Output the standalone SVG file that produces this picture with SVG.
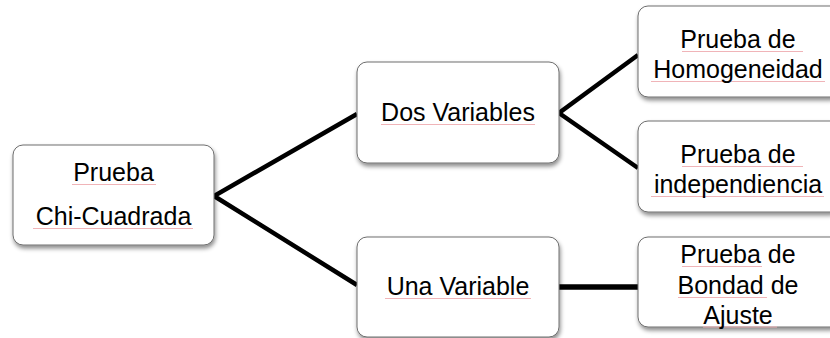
<svg xmlns="http://www.w3.org/2000/svg" width="830" height="338" viewBox="0 0 830 338">
<defs>
<filter id="sh" x="-10%" y="-10%" width="125%" height="130%">
<feDropShadow dx="1" dy="3" stdDeviation="2" flood-color="#000" flood-opacity="0.45"/>
</filter>
</defs>
<style>
.box{fill:#fff;stroke:#6e6e6e;stroke-width:1;filter:url(#sh)}
.t{font-family:"Liberation Sans",Arial,sans-serif;font-size:25px;fill:#000;text-anchor:middle}
.sq{stroke:#f0b4b8;stroke-width:1;fill:none}
.c{stroke:#000;stroke-width:4.5;fill:none;stroke-linejoin:miter}
</style>
<rect width="830" height="338" fill="#fff"/>
<g id="connectors">
<polyline class="c" points="357,114 214,196 357,285"/>
<polyline class="c" points="638,55 559,113 638,168"/>
<line class="c" x1="559" y1="287" x2="638" y2="287" style="stroke-width:5.5"/>
</g>
<g id="n1">
<rect class="box" x="13" y="145" width="201" height="100" rx="10"/>
<line class="sq" x1="72" y1="184.5" x2="156" y2="184.5"/>
<line class="sq" x1="33" y1="228.5" x2="193" y2="228.5"/>
<text class="t" x="113.5" y="181">Prueba</text>
<text class="t" x="113.5" y="225">Chi-Cuadrada</text>
</g>
<g id="n2">
<rect class="box" x="357" y="62" width="202" height="101" rx="10"/>
<line class="sq" x1="381" y1="124.5" x2="535" y2="124.5"/>
<text class="t" x="458" y="121">Dos Variables</text>
</g>
<g id="n3">
<rect class="box" x="357" y="237" width="202" height="100" rx="10"/>
<line class="sq" x1="385" y1="298.5" x2="531" y2="298.5"/>
<text class="t" x="458" y="295">Una Variable</text>
</g>
<g id="n4">
<rect class="box" x="638" y="6" width="202" height="91" rx="10"/>
<line class="sq" x1="682" y1="51.5" x2="803" y2="51.5"/>
<line class="sq" x1="651" y1="81.5" x2="825" y2="81.5"/>
<text class="t" x="738" y="48">Prueba de </text>
<text class="t" x="738" y="78">Homogeneidad</text>
</g>
<g id="n5">
<rect class="box" x="638" y="121" width="202" height="91" rx="10"/>
<line class="sq" x1="682" y1="166.5" x2="803" y2="166.5"/>
<line class="sq" x1="651" y1="196.5" x2="824" y2="196.5"/>
<text class="t" x="738" y="163">Prueba de </text>
<text class="t" x="738" y="193">independiencia</text>
</g>
<g id="n6">
<rect class="box" x="638" y="237" width="202" height="90" rx="10"/>
<line class="sq" x1="682" y1="266.5" x2="762" y2="266.5"/>
<line class="sq" x1="678" y1="297.5" x2="767" y2="297.5"/>
<line class="sq" x1="703" y1="327" x2="777" y2="327"/>
<text class="t" x="738" y="263">Prueba de</text>
<text class="t" x="738" y="294">Bondad de</text>
<text class="t" x="738" y="324">Ajuste</text>
</g>
</svg>
